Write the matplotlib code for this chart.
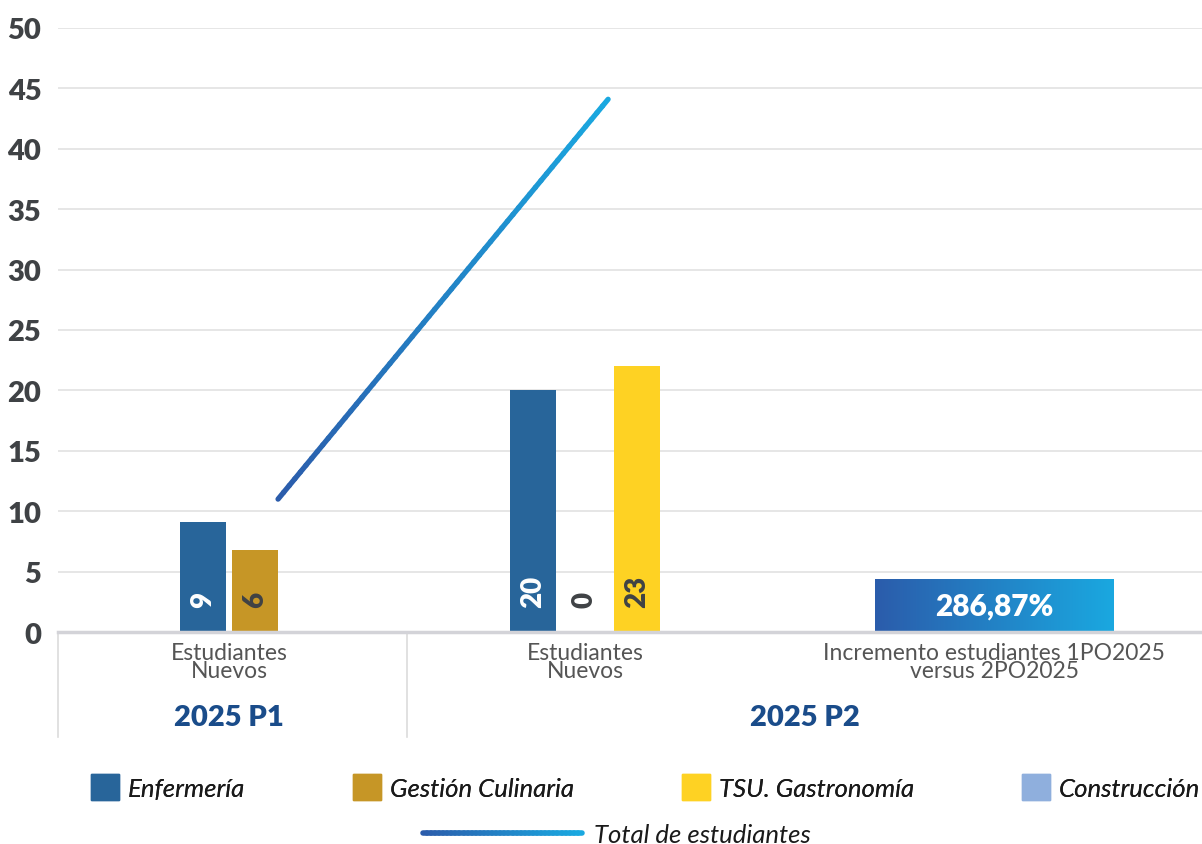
import numpy as np
import matplotlib
matplotlib.use("Agg")
import matplotlib.pyplot as plt
from matplotlib.collections import LineCollection
from matplotlib.colors import LinearSegmentedColormap
from matplotlib.legend_handler import HandlerBase
from matplotlib.lines import Line2D
from matplotlib.patches import Patch
import matplotlib.transforms as mtransforms

# data
categories = ["Estudiantes\nNuevos", "Estudiantes\nNuevos",
              "Incremento estudiantes 1PO2025\nversus 2PO2025"]
groups = ["2025 P1", "2025 P2"]
enfermeria = [9.1, 20.0]
enfermeria_labels = ["9", "20"]
gestion = [6.8, 0.0]
gestion_labels = ["6", "0"]
tsu = [22.0]
tsu_labels = ["23"]
total = [11.0, 44.1]
incremento = 4.4
incremento_label = "286,87%"
yticks = list(range(0, 51, 5))

# colours / style
c_enf = "#28659a"
c_ges = "#c69626"
c_tsu = "#fed223"
c_con = "#8fafdd"
c_tick = "#3f4245"
c_cat = "#555555"
c_group = "#1a4c8a"
grad_cmap = LinearSegmentedColormap.from_list("grad", ["#2b5cab", "#1aa8e0"])

plt.rcParams["font.family"] = ["Lato", "DejaVu Sans"]

fig = plt.figure(figsize=(12.02, 8.45), dpi=100)
ax = fig.add_axes([58 / 1202, 1 - 633 / 845, 1 - 58 / 1202, 604 / 845])

pos = [0.0, 1.0, 2.15]
bw = 0.129
off1 = 0.073
off2 = 0.146

# P1 bars
ax.bar(pos[0] - off1, enfermeria[0], bw, color=c_enf, zorder=2)
ax.bar(pos[0] + off1, gestion[0], bw, color=c_ges, zorder=2)
# P2 bars
ax.bar(pos[1] - off2, enfermeria[1], bw, color=c_enf, zorder=2)
ax.bar(pos[1], gestion[1], bw, color=c_ges, zorder=2)
ax.bar(pos[1] + off2, tsu[0], bw, color=c_tsu, zorder=2)

label_specs = [
    (pos[0] - off1, enfermeria_labels[0], "white"),
    (pos[0] + off1, gestion_labels[0], c_tick),
    (pos[1] - off2, enfermeria_labels[1], "white"),
    (pos[1], gestion_labels[1], c_tick),
    (pos[1] + off2, tsu_labels[0], c_tick),
]
for x, txt, col in label_specs:
    ax.text(x, 2.1, txt, rotation=90, ha="center", va="bottom",
            fontsize=20, fontweight="heavy", color=col, zorder=4)

# gradient bar for the increase
gb = ax.bar(pos[2], incremento, 0.669, color="none", zorder=2)[0]
gx, gy, gw, gh = gb.get_x(), gb.get_y(), gb.get_width(), gb.get_height()
im = ax.imshow(np.linspace(0, 1, 256).reshape(1, -1), cmap=grad_cmap,
               extent=[gx, gx + gw, gy, gy + gh], aspect="auto", zorder=2)
im.set_clip_path(gb)
ax.text(pos[2], incremento / 2, incremento_label, ha="center", va="center",
        fontsize=21.5, fontweight="heavy", color="white", zorder=4)

# gradient total line
lx = [pos[0] + 0.138, pos[1] + 0.065]
n = 60
xs = np.linspace(lx[0], lx[1], n)
ys = np.linspace(total[0], total[1], n)
pts = np.column_stack([xs, ys]).reshape(-1, 1, 2)
segs = np.concatenate([pts[:-1], pts[1:]], axis=1)
lc = LineCollection(segs, colors=grad_cmap(np.linspace(0, 1, n - 1)),
                    linewidth=3.8, capstyle="round", zorder=3)
ax.add_collection(lc)

ax.set_xlim(-0.48, 2.733)
ax.set_ylim(0, 50)
ax.set_yticks(yticks)
ax.set_xticks([])
ax.grid(axis="y", color="#e4e4e4", linewidth=1.3, zorder=0)
ax.tick_params(axis="y", length=0, pad=12, labelsize=21, labelcolor=c_tick)
for t in ax.get_yticklabels():
    t.set_fontweight("heavy")
for s in ["top", "right", "left"]:
    ax.spines[s].set_visible(False)
ax.spines["bottom"].set_color("#d3d3d8")
ax.spines["bottom"].set_linewidth(2.5)
ax.spines["bottom"].set_zorder(5)

# category and group labels below the axis
trans = mtransforms.blended_transform_factory(ax.transData, ax.transAxes)
for x, cat in zip(pos, categories):
    ax.text(x, -0.016, cat, transform=trans, ha="center", va="top",
            fontsize=16.5, color=c_cat, linespacing=0.82)
ax.text(pos[0], -0.141, groups[0], transform=trans, ha="center", va="center",
        fontsize=21, fontweight="heavy", color=c_group)
ax.text((0.5 + 2.733) / 2, -0.141, groups[1], transform=trans, ha="center",
        va="center", fontsize=21, fontweight="heavy", color=c_group)
for x in [-0.48, 0.5]:
    ax.plot([x, x], [0, -0.174], transform=trans, color="#dcdcdc",
            linewidth=1.2, clip_on=False)


class GradientLineHandler(HandlerBase):
    def create_artists(self, legend, orig_handle, xdescent, ydescent,
                       width, height, fontsize, trans):
        hx = np.linspace(-xdescent, width - xdescent, 40)
        hy = height / 2 - ydescent
        p = np.column_stack([hx, np.full_like(hx, hy)]).reshape(-1, 1, 2)
        s = np.concatenate([p[:-1], p[1:]], axis=1)
        coll = LineCollection(s, colors=grad_cmap(np.linspace(0, 1, len(s))),
                              linewidth=4, capstyle="round", transform=trans)
        return [coll]


legend_font = {"size": 18.5, "style": "italic"}
handles = [Patch(color=c_enf, label="Enfermería"),
           Patch(color=c_ges, label="Gestión Culinaria"),
           Patch(color=c_tsu, label="TSU. Gastronomía"),
           Patch(color=c_con, label="Construcción")]
leg1 = fig.legend(handles=handles, loc="center", bbox_to_anchor=(0.537, 0.0675),
                  ncol=4, frameon=False, handlelength=1.09, handleheight=1.23,
                  handletextpad=0.34, columnspacing=4.2, prop=legend_font,
                  labelcolor="#1a1a1a")
fig.add_artist(leg1)
line_handle = Line2D([], [], label="Total de estudiantes")
fig.legend(handles=[line_handle], handler_map={Line2D: GradientLineHandler()},
           loc="center", bbox_to_anchor=(0.513, 0.011), frameon=False,
           handlelength=6.2, handletextpad=0.46, prop=legend_font,
           labelcolor="#1a1a1a")

fig.savefig("out.png", dpi=100)
